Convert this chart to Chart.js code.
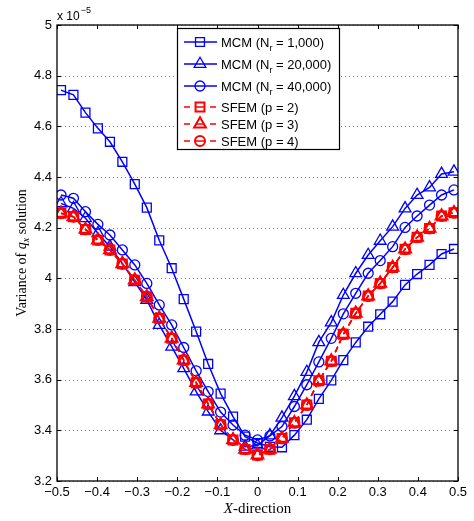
<!DOCTYPE html>
<html>
<head>
<meta charset="utf-8">
<script src="https://cdn.jsdelivr.net/npm/chart.js@4.4.1/dist/chart.umd.min.js"></script>
<style>
  html, body { margin: 0; padding: 0; background: #fff; }
  #wrap { width: 474px; height: 521px; }
</style>
</head>
<body>
<div id="wrap"><canvas id="chart"></canvas></div>
<script>
// ── Data (values in units of 1e-5) ───────────────────────
const xPos = [
  -0.49, -0.459, -0.429, -0.398, -0.368, -0.337, -0.306, -0.276, -0.245, -0.214, -0.184,
  -0.153, -0.123, -0.092, -0.061, -0.031, 0, 0.031, 0.061, 0.092, 0.123, 0.153,
  0.184, 0.214, 0.245, 0.276, 0.306, 0.337, 0.368, 0.398, 0.429, 0.459, 0.49
];
const mcm1000 = [
  4.743, 4.724, 4.654, 4.592, 4.539, 4.460, 4.372, 4.279, 4.150, 4.040, 3.918,
  3.790, 3.662, 3.545, 3.454, 3.375, 3.350, 3.335, 3.333, 3.381, 3.442, 3.524,
  3.597, 3.677, 3.747, 3.809, 3.858, 3.908, 3.974, 4.017, 4.053, 4.096, 4.116
];
const mcm20000 = [
  4.296, 4.276, 4.237, 4.178, 4.125, 4.059, 3.985, 3.915, 3.816, 3.730, 3.645,
  3.553, 3.474, 3.400, 3.362, 3.335, 3.340, 3.380, 3.450, 3.535, 3.630, 3.748,
  3.826, 3.934, 4.020, 4.092, 4.148, 4.204, 4.276, 4.329, 4.359, 4.412, 4.421
];
const mcm40000 = [
  4.329, 4.316, 4.263, 4.213, 4.171, 4.112, 4.053, 3.980, 3.895, 3.816, 3.727,
  3.635, 3.553, 3.472, 3.421, 3.381, 3.362, 3.378, 3.415, 3.494, 3.580, 3.670,
  3.763, 3.860, 3.941, 4.020, 4.070, 4.125, 4.201, 4.246, 4.289, 4.329, 4.349
];
const sfemP2 = [
  4.257, 4.243, 4.193, 4.151, 4.112, 4.057, 3.993, 3.927, 3.842, 3.763, 3.677,
  3.588, 3.504, 3.422, 3.362, 3.325, 3.302, 3.325, 3.368, 3.430, 3.500, 3.596,
  3.673, 3.779, 3.862, 3.930, 3.980, 4.043, 4.115, 4.162, 4.197, 4.246, 4.259
];
const sfemP3 = [
  4.257, 4.243, 4.193, 4.151, 4.112, 4.057, 3.993, 3.927, 3.842, 3.763, 3.677,
  3.588, 3.504, 3.422, 3.362, 3.325, 3.302, 3.325, 3.368, 3.430, 3.500, 3.596,
  3.673, 3.779, 3.862, 3.930, 3.980, 4.043, 4.115, 4.162, 4.197, 4.246, 4.259
];
const sfemP4 = [
  4.257, 4.243, 4.193, 4.151, 4.112, 4.057, 3.993, 3.927, 3.842, 3.763, 3.677,
  3.588, 3.504, 3.422, 3.362, 3.325, 3.302, 3.325, 3.368, 3.430, 3.500, 3.596,
  3.673, 3.779, 3.862, 3.930, 3.980, 4.043, 4.115, 4.162, 4.197, 4.246, 4.259
];
const xTicks = [-0.5, -0.4, -0.3, -0.2, -0.1, 0, 0.1, 0.2, 0.3, 0.4, 0.5];
const yTicks = [3.2, 3.4, 3.6, 3.8, 4, 4.2, 4.4, 4.6, 4.8, 5];

const BLUE = '#0000ff', RED = '#ff0000';
const SANS = '"Liberation Sans", Arial, sans-serif';
const SERIF = '"Liberation Serif", "Times New Roman", serif';

const series = [
  { label: ['MCM (N', 'r', ' = 1,000)'],  data: mcm1000,  color: BLUE, marker: 'rect',     r: 6.3, pw: 1.3, dash: [],     order: 1 },
  { label: ['MCM (N', 'r', ' = 20,000)'], data: mcm20000, color: BLUE, marker: 'triangle', r: 6.8, pw: 1.3, dash: [],     order: 1 },
  { label: ['MCM (N', 'r', ' = 40,000)'], data: mcm40000, color: BLUE, marker: 'circle',   r: 5,   pw: 1.3, dash: [],     order: 1 },
  { label: ['SFEM (p = 2)'],              data: sfemP2,   color: RED,  marker: 'rect',     r: 6.3, pw: 2,   dash: [6, 4], order: 0 },
  { label: ['SFEM (p = 3)'],              data: sfemP3,   color: RED,  marker: 'triangle', r: 6.8, pw: 2,   dash: [6, 4], order: 0 },
  { label: ['SFEM (p = 4)'],              data: sfemP4,   color: RED,  marker: 'circle',   r: 5,   pw: 2,   dash: [6, 4], order: 0 },
];

// ── Helpers ──────────────────────────────────────────────
function fmtX(v) {
  if (Math.abs(v) < 1e-9) return '0';
  return (v < 0 ? '\u2212' : '') + Math.abs(v).toFixed(1);
}
function fmtY(v) {
  return Number.isInteger(v) ? String(v) : v.toFixed(1);
}

function drawMarker(ctx, type, r, x, y, color, lw) {
  ctx.save();
  ctx.strokeStyle = color;
  ctx.lineWidth = lw;
  ctx.setLineDash([]);
  ctx.beginPath();
  if (type === 'rect') {
    const s = r * Math.SQRT1_2;
    ctx.rect(x - s, y - s, 2 * s, 2 * s);
  } else if (type === 'circle') {
    ctx.arc(x, y, r, 0, Math.PI * 2);
  } else {
    ctx.moveTo(x, y - r);
    ctx.lineTo(x + r * 0.866, y + r * 0.5);
    ctx.lineTo(x - r * 0.866, y + r * 0.5);
    ctx.closePath();
  }
  ctx.stroke();
  ctx.restore();
}

// ── Frame, ticks, titles and legend ──────────────────────
const frame = {
  id: 'frame',
  beforeDatasetsDraw(chart) {
    const { ctx, chartArea: a, scales: { y } } = chart;
    ctx.save();
    ctx.strokeStyle = '#8a8a8a';
    ctx.lineWidth = 1;
    ctx.setLineDash([1, 3]);
    yTicks.forEach(v => {
      const py = Math.round(y.getPixelForValue(v)) + 0.5;
      ctx.beginPath(); ctx.moveTo(a.left, py); ctx.lineTo(a.right, py); ctx.stroke();
    });
    ctx.restore();
  },
  afterDraw(chart) {
    const { ctx, chartArea: a, scales: { x, y } } = chart;
    ctx.save();
    ctx.strokeStyle = '#000';
    ctx.lineWidth = 1.3;
    ctx.setLineDash([]);
    ctx.strokeRect(a.left, a.top, a.right - a.left, a.bottom - a.top);

    // inward tick marks
    ctx.lineWidth = 1;
    const t = 4;
    xTicks.forEach(v => {
      const px = Math.round(x.getPixelForValue(v)) + 0.5;
      ctx.beginPath();
      ctx.moveTo(px, a.bottom); ctx.lineTo(px, a.bottom - t);
      ctx.moveTo(px, a.top); ctx.lineTo(px, a.top + t);
      ctx.stroke();
    });
    yTicks.forEach(v => {
      const py = Math.round(y.getPixelForValue(v)) + 0.5;
      ctx.beginPath();
      ctx.moveTo(a.left, py); ctx.lineTo(a.left + t, py);
      ctx.moveTo(a.right, py); ctx.lineTo(a.right - t, py);
      ctx.stroke();
    });

    // exponent label
    ctx.fillStyle = '#000';
    ctx.textBaseline = 'alphabetic';
    ctx.textAlign = 'left';
    ctx.font = '12px ' + SANS;
    ctx.fillText('x 10', a.left, 20);
    const w10 = ctx.measureText('x 10').width;
    ctx.font = '9px ' + SANS;
    ctx.fillText('\u22125', a.left + w10 + 1, 13);

    // x title: italic X + "-direction"
    ctx.font = 'italic 15px ' + SERIF;
    const wX = ctx.measureText('X').width;
    ctx.font = '15px ' + SERIF;
    const wRest = ctx.measureText('-direction').width;
    const sx = (a.left + a.right) / 2 - (wX + wRest) / 2;
    ctx.font = 'italic 15px ' + SERIF;
    ctx.fillText('X', sx, 513);
    ctx.font = '15px ' + SERIF;
    ctx.fillText('-direction', sx + wX, 513);

    // y title (rotated)
    ctx.save();
    ctx.translate(26, (a.top + a.bottom) / 2);
    ctx.rotate(-Math.PI / 2);
    const parts = [
      ['Variance of ', '14px ' + SERIF, 0],
      ['q', 'italic 14px ' + SERIF, 0],
      ['x', 'italic 10px ' + SERIF, 3],
      [' solution', '14px ' + SERIF, 0],
    ];
    let tot = 0;
    parts.forEach(p => { ctx.font = p[1]; tot += ctx.measureText(p[0]).width; });
    let cx = -tot / 2;
    parts.forEach(p => {
      ctx.font = p[1];
      ctx.fillText(p[0], cx, p[2]);
      cx += ctx.measureText(p[0]).width;
    });
    ctx.restore();

    // legend
    const lx = 177, ly = 28, lw = 162, lh = 121;
    ctx.fillStyle = '#fff';
    ctx.fillRect(lx, ly, lw, lh);
    ctx.strokeStyle = '#000';
    ctx.lineWidth = 1.2;
    ctx.strokeRect(lx + 0.5, ly + 0.5, lw, lh);
    const rowsY = [42, 64, 86, 107, 124, 141];
    series.forEach((s, i) => {
      const yy = rowsY[i];
      ctx.strokeStyle = s.color;
      ctx.lineWidth = 1.5;
      ctx.beginPath();
      if (s.dash.length) {
        ctx.moveTo(184, yy); ctx.lineTo(190, yy);
        ctx.moveTo(196, yy); ctx.lineTo(204, yy);
        ctx.moveTo(210, yy); ctx.lineTo(216, yy);
      } else {
        ctx.moveTo(184, yy); ctx.lineTo(217, yy);
      }
      ctx.stroke();
      drawMarker(ctx, s.marker, s.r, 200, yy, s.color, s.pw);
      ctx.fillStyle = '#000';
      let tx = 221;
      ctx.font = '13px ' + SANS;
      ctx.fillText(s.label[0], tx, yy + 4.5);
      tx += ctx.measureText(s.label[0]).width;
      if (s.label.length > 1) {
        ctx.font = '9px ' + SANS;
        ctx.fillText(s.label[1], tx, yy + 8.5);
        tx += ctx.measureText(s.label[1]).width;
        ctx.font = '13px ' + SANS;
        ctx.fillText(s.label[2], tx, yy + 4.5);
      }
    });
    ctx.restore();
  }
};

// ── Chart ────────────────────────────────────────────────
new Chart(document.getElementById('chart'), {
  type: 'line',
  data: {
    datasets: series.map(s => ({
      label: s.label.join(''),
      data: s.data.map((v, i) => ({ x: xPos[i], y: v })),
      borderColor: s.color,
      backgroundColor: 'rgba(0,0,0,0)',
      borderWidth: 1.5,
      borderDash: s.dash,
      pointStyle: s.marker,
      pointRadius: s.r,
      pointBorderWidth: s.pw,
      pointBorderColor: s.color,
      pointBackgroundColor: 'rgba(0,0,0,0)',
      tension: 0,
      fill: false,
      order: s.order,
    })),
  },
  options: {
    responsive: true,
    maintainAspectRatio: false,
    animation: false,
    events: [],
    layout: { padding: { left: 0, right: 16, top: 25, bottom: 0 } },
    scales: {
      x: {
        type: 'linear',
        min: -0.5, max: 0.5,
        afterBuildTicks: s => { s.ticks = xTicks.map(v => ({ value: v })); },
        afterFit: s => { s.height = 40; },
        ticks: {
          color: '#000', font: { family: SANS, size: 13 }, padding: 4,
          maxRotation: 0, autoSkip: false, callback: v => fmtX(v),
        },
        grid: { display: false, drawTicks: false },
        border: { display: false },
      },
      y: {
        type: 'linear',
        min: 3.2, max: 5,
        afterBuildTicks: s => { s.ticks = yTicks.map(v => ({ value: v })); },
        afterFit: s => { s.width = 57; },
        ticks: {
          color: '#000', font: { family: SANS, size: 13 }, padding: 5,
          autoSkip: false, callback: v => fmtY(v),
        },
        grid: { display: false, drawTicks: false },
        border: { display: false },
      },
    },
    plugins: {
      legend: { display: false },
      tooltip: { enabled: false },
    },
  },
  plugins: [frame],
});
</script>
</body>
</html>
